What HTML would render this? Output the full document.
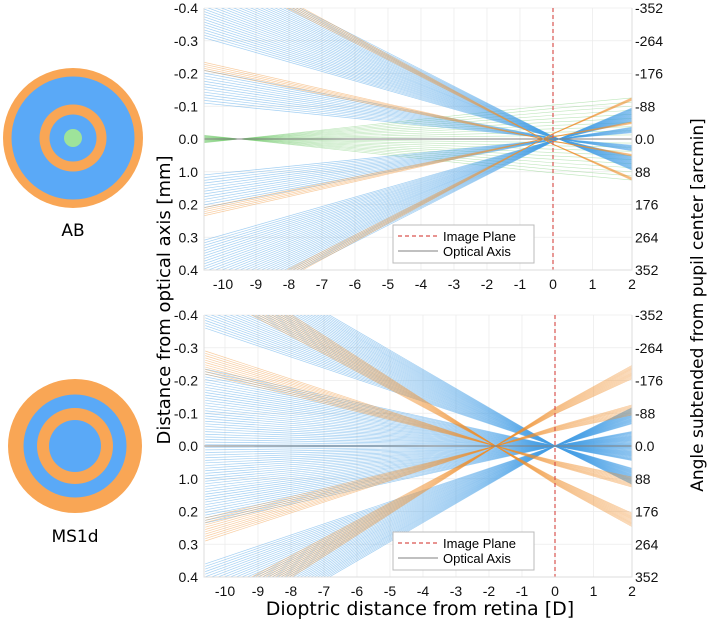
<!DOCTYPE html>
<html><head><meta charset="utf-8"><style>
body{margin:0;background:#fff;width:709px;height:621px;overflow:hidden;font-family:"Liberation Sans",sans-serif}
svg{position:absolute;left:0;top:0}
</style></head><body>
<svg id="s" width="709" height="621">
  <g>
    <circle cx="73" cy="138" r="70" fill="#f9a655"/>
    <circle cx="73" cy="138" r="61.5" fill="#5aa9f7"/>
    <circle cx="73" cy="138" r="33.5" fill="#f9a655"/>
    <circle cx="73" cy="138" r="23.5" fill="#5aa9f7"/>
    <circle cx="73" cy="138" r="9" fill="#9ee39a"/>
    <text x="73" y="236" font-size="17" text-anchor="middle" font-family="DejaVu Sans, sans-serif">AB</text>
  </g>
  <g>
    <circle cx="75" cy="446" r="67" fill="#f9a655"/>
    <circle cx="75" cy="446" r="51.5" fill="#5aa9f7"/>
    <circle cx="75" cy="446" r="38" fill="#f9a655"/>
    <circle cx="75" cy="446" r="26" fill="#5aa9f7"/>
    <text x="75" y="542" font-size="17" text-anchor="middle" font-family="DejaVu Sans, sans-serif">MS1d</text>
  </g>
  <text transform="translate(170,300) rotate(-90)" font-size="18" text-anchor="middle" font-family="DejaVu Sans, sans-serif">Distance from optical axis [mm]</text>
  <text transform="translate(703,305) rotate(-90)" font-size="17" text-anchor="middle" font-family="DejaVu Sans, sans-serif">Angle subtended from pupil center [arcmin]</text>
  <text x="420" y="615" font-size="19" text-anchor="middle" font-family="DejaVu Sans, sans-serif">Dioptric distance from retina [D]</text>
</svg>
<script>
const xTicks=[-10,-9,-8,-7,-6,-5,-4,-3,-2,-1,0,1,2];
const yTicks=[-0.4,-0.3,-0.2,-0.1,0,0.1,0.2,0.3,0.4];
const yTickLabels=["-0.4","-0.3","-0.2","-0.1","0.0","1.0","0.2","0.3","0.4"];
const rightTickLabels=["-352","-264","-176","-88","0.0","88","176","264","352"];
const xMin=-10.6, xMax=2;
// top (AB) bundles: [leftY start, leftY end]
const abBlue=[[-0.55,-0.31],[-0.21,-0.11],[0.11,0.21],[0.31,0.55]];
const abOrange=[[-0.565,-0.53],[-0.235,-0.21],[0.21,0.235],[0.53,0.565]];
const abGreen=[[-0.012,0.012]];
const abBlueFocus=0.15, abOrangeFocus=-0.3, abGreenFocus=-9.5;
// bottom (MS1d)
const msBlue=[[-0.62,-0.36],[-0.235,0.235],[0.36,0.62]];
const msOrange=[[-0.57,-0.476],[-0.29,-0.22],[0.22,0.29],[0.476,0.57]];
const msBlueFocus=0, msOrangeFocus=-1.8;

const NS="http://www.w3.org/2000/svg";
const svg=document.getElementById('s');
function mk(tag,attrs,parent){const e=document.createElementNS(NS,tag);for(const k in attrs)e.setAttribute(k,attrs[k]);(parent||svg).appendChild(e);return e;}

function panel(name,top,bottom,x0,blue,orange,green,bf,of,gf,legY){
  const L=204,R=632,zy=(top+bottom)/2,sy=(bottom-top)/0.8;
  const X=v=>v<=0?x0+v*33:x0+v*(R-x0)/2;
  const Y=v=>zy+v*sy;
  const g=mk('g',{});
  
  
  const cid='c'+name;
  const cp=mk('clipPath',{id:cid},g);mk('rect',{x:L,y:top,width:R-L,height:bottom-top},cp);
  const grid=mk('g',{stroke:'#ececec','stroke-width':0.8},g);
  
  
  xTicks.forEach(t=>mk('line',{x1:X(t),x2:X(t),y1:top,y2:bottom},grid));
  yTicks.forEach(t=>mk('line',{x1:L,x2:R,y1:Y(t),y2:Y(t)},grid));
  const rays=mk('g',{'clip-path':'url(#'+cid+')',fill:'none'},g);
  
  
  function bundle(arr,focus,color,op,step,w){
    arr.forEach(b=>{
      const n=Math.max(4,Math.round(Math.abs(b[1]-b[0])/step));
      for(let i=0;i<=n;i++){
        const y0=b[0]+(b[1]-b[0])*i/n;
        const slope=-y0/(focus-xMin);
        const f=x=>y0+slope*(x-xMin);
        const pts=[xMin,0,xMax].map(x=>X(x).toFixed(2)+','+Y(f(x)).toFixed(2)).join(' ');
        const ln=mk('polyline',{points:pts,stroke:color,'stroke-width':w,'stroke-opacity':op},rays);
        
        
      }
    });
  }
  if(green) bundle(green,gf,'#6cc866',0.45,0.0012,0.6);
  bundle(blue,bf,'#4aa2e8',0.5,0.008,0.7);
  bundle(orange,of,'#f0902e',0.45,0.007,0.7);
  const ax=mk('line',{x1:L,x2:R,y1:zy,y2:zy,stroke:'#808080','stroke-width':1},g);
  
  
  const ip=mk('line',{x1:X(0),x2:X(0),y1:top,y2:bottom,stroke:'#d9534f','stroke-width':1.2,'stroke-dasharray':'4,3'},g);
  
  
  mk('path',{d:`M${L},${top}V${bottom}H${R}V${top}`,fill:'none',stroke:'#ddd','stroke-width':1},g);
  const tl=mk('g',{'font-size':14,fill:'#111'},g);
  
  
  xTicks.forEach(t=>{const e=mk('text',{x:X(t),y:bottom+19,'text-anchor':'middle'},tl);e.textContent=String(t);});
  yTicks.forEach((t,i)=>{const e=mk('text',{x:L-6,y:Y(t)+5,'text-anchor':'end'},tl);e.textContent=yTickLabels[i];
    const r=mk('text',{x:R+3,y:Y(t)+5,'text-anchor':'start'},tl);r.textContent=rightTickLabels[i];});
  const lg=mk('g',{},g);
  
  
  mk('rect',{x:393,y:legY,width:141,height:38,fill:'#fff',stroke:'#bbb','stroke-width':1},lg);
  mk('line',{x1:398,x2:438,y1:legY+11,y2:legY+11,stroke:'#d9534f','stroke-dasharray':'4,3','stroke-width':1.2},lg);
  mk('line',{x1:398,x2:438,y1:legY+26,y2:legY+26,stroke:'#808080','stroke-width':1},lg);
  let e=mk('text',{x:443,y:legY+16,'font-size':13},lg);e.textContent='Image Plane';
  e=mk('text',{x:443,y:legY+31,'font-size':13},lg);e.textContent='Optical Axis';
}
panel('plot-ab',8,270,553,abBlue,abOrange,abGreen,abBlueFocus,abOrangeFocus,abGreenFocus,225);
panel('plot-ms1d',315,577,555,msBlue,msOrange,null,msBlueFocus,msOrangeFocus,0,532);
</script>
</body></html>
